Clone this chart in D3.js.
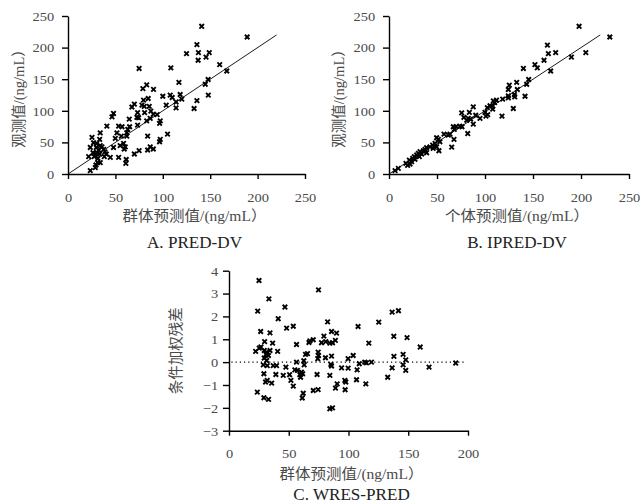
<!DOCTYPE html>
<html><head><meta charset="utf-8">
<script src="https://cdn.jsdelivr.net/npm/d3@7"></script>
<style>
html,body{margin:0;padding:0;background:#fff;}
svg{display:block;}
</style></head>
<body><div id="chart"></div>
<script>
// ---------- Data ----------
// Panel A: PRED (x) vs DV (y)
const predA_x = [141,189,136,125,137.6,149,145.6,137.3,160,167.5,75,108.5,117,147.8,144.8,148,83,79,90.2,118.3,107.8,100,109.9,84.6,79.7,120,114,136,103.6,70,67.4,80.4,78,85.7,114,133,48,46.4,73.4,74.5,80.8,87.4,90,94,86.7,83,72.7,64.6,97.3,96.6,73.4,41,53.4,57,65,63,51.6,62,34,56.2,62,25.3,33.4,49.9,84,97.3,96.6,105,58.6,55,30.5,34,35.8,27,23.5,29.8,32.3,48,60.4,59.3,86.7,90,84,75,70,37.6,39,40.4,26.3,28.8,30.5,33.4,38.3,21.8,27.7,31.6,44.6,53.4,61.4,61,31.2,34,29.5,28.8,23.5];
const predA_y = [233.7,216.8,204.7,190.5,192,192,185,180,173,163,167,168,145,149.5,142,124.7,141,135,134,125.8,124.7,123,121,119.5,117,118.4,114,116,109,110.5,106,107,109,107,104.7,103.7,95.8,90.5,97,89,97,99.5,94.7,94,88,84,89.5,86.8,84,80,77.4,75.8,75.8,74.7,74.7,70.5,65,65,65,60,60,58,54.7,56.3,60,54.7,51,63,48.4,45,48.4,45,43,49.5,42,42,38,42,43,39.5,43,39.5,38,37,31.6,39,35,31.6,33.7,31.6,33.7,31.6,27.4,27.4,27.4,24.7,26.3,26.3,23,16.8,17.9,17.9,14.2,10,5.3];
// Panel B: IPRED (x) vs DV (y)
const ipred_x = [198,230,165,166,173.6,205,190,161.5,152,154.5,168.4,140,145.5,143.4,133,125.3,133.7,124.3,130.6,124.3,124.3,141.7,131,118.4,112,110,108.7,105.2,108,102.4,108,129.5,87.8,75.7,83.7,90.3,94.8,101,102.8,100,117.7,78,82.6,85,81,87.8,67,69.8,68,73.8,76,82,63.5,61.8,57.3,49.6,51.4,67.7,53,48,45.5,42.7,39.2,37.5,32.3,30.6,28.8,26.4,24.7,21.2,17.7,19.4,21.9,9.7,6.3,65.3,52,34,39.2,46,49.6,35.8,31.6,27,23.6];
const ipred_y = [233.7,216.8,204,190.5,192,192,185,180,173,168,163,167,149.5,142,145,140.5,133.7,133.7,125.8,123.7,120.5,123,122,118.4,117,113,115.8,108,107.4,105,102.6,103.7,106.3,96.8,97.4,93,88,91.6,94,97.4,91.6,89.5,88,86.8,85,79,74.7,74.7,70.5,75.8,74.7,64,63,61.6,63,57.4,54.7,54.7,51,48.4,45.8,43,41.6,39,35.3,32.6,30,27.4,24.7,22,16.8,13.7,15.8,9,5.3,42.6,36.8,31.6,33.7,40.5,43,36.8,27.4,23.4,19.5];
// Panel C: PRED (x) vs CWRES (y)
const wres_x = [25.1,74.9,33.4,24,46.8,41.2,48.2,53.8,82.5,108,125.3,136.5,141.8,26.5,34.3,85.8,90,79.4,137.9,149,29.8,36.5,56.5,66.9,70.5,67.7,77.4,81,84.4,86.6,89,117,160,22.3,25.3,26.7,29.5,31.5,34.3,40.7,31,33,29.5,31.5,56.5,62.9,62.6,64,65.7,74.3,74.9,74.6,80.7,85.8,99.7,99.7,103.9,109,113.6,115,119.2,138,145.7,147.9,145.7,147.9,136.5,132.8,167.4,189.7,28.7,32,37,39.8,47.6,55.1,57.3,60.6,59.3,61.6,59.9,50.7,45.4,29.2,39.2,51.8,53.8,73.7,84.4,85.2,85.8,94.2,96.9,97.7,106.7,107.2,114.5,90.5,89.1,97.2,32,30.6,35.7,23.7,29.2,33.1,62.1,61.3,70.5,74.6,84.4,86.6];
const wres_y = [3.57,3.16,2.77,2.23,2.41,1.9,1.49,1.57,1.76,1.56,1.75,2.19,2.25,1.34,1.28,1.34,1.27,1.14,1.13,1.07,0.9,0.83,0.77,0.86,0.98,0.93,0.85,0.9,0.83,0.85,0.95,0.83,0.66,0.47,0.61,0.66,0.51,0.44,0.51,0.47,0.34,0.29,0.18,0.07,0,-0.12,0.06,0.34,0.37,0.15,0.29,0.44,0.19,0.26,-0.26,0.15,0.29,-0.07,0,-0.03,0,0.25,0.34,0.1,-0.12,-0.36,-0.25,-0.66,-0.22,-0.04,-0.12,-0.15,-0.15,-0.15,-0.22,-0.34,-0.36,-0.44,-0.55,-0.51,-0.66,-0.55,-0.58,-0.51,-0.54,-0.8,-1.05,-0.54,-0.58,-0.1,-0.17,-0.25,-0.8,-0.87,-0.77,-0.34,-0.95,-0.95,-1.14,-1.21,-0.8,-0.87,-0.92,-1.31,-1.56,-1.63,-1.36,-1.57,-1.24,-1.2,-2.04,-2];

// Tick labels
const ticksAB = [0,50,100,150,200,250];
const ticksCx = [0,50,100,150,200];
const ticksCy = [-3,-2,-1,0,1,2,3,4];
const identityLine = [0,220];

const labelsA = {x:"群体预测值/(ng/mL）", y:"观测值/(ng/mL）", title:"A. PRED-DV"};
const labelsB = {x:"个体预测值/(ng/mL）", y:"观测值/(ng/mL）", title:"B. IPRED-DV"};
const labelsC = {x:"群体预测值/(ng/mL）", y:"条件加权残差", title:"C. WRES-PRED"};

// ---------- Drawing ----------
const W = 642, H = 503;
const FONT = "'Liberation Serif','Noto Sans CJK SC',serif";
const TXT = "#4a4a4a";
const SX = 1.07; // slight horizontal stretch seen in the reference

const svg = d3.select("#chart").append("svg").attr("width", W).attr("height", H)
  .style("background","#fff");

function stretchText(sel){
  sel.attr("transform", `scale(${SX},1)`);
}

function label(x, y, txt, size, rotate, color){
  const g = svg.append("g").attr("transform", `translate(${x},${y})` + (rotate ? " rotate(-90)" : ""));
  g.append("text")
    .attr("text-anchor","middle")
    .attr("font-family", FONT)
    .attr("font-size", size)
    .attr("fill", color || TXT)
    .attr("transform", rotate ? "" : `scale(${SX},1)`)
    .text(txt);
}

const sym = d3.symbol().type(d3.symbolTimes).size(15);

function panel(o){
  const x = d3.scaleLinear().domain(o.xd).range([o.x0, o.x1]);
  const y = d3.scaleLinear().domain(o.yd).range([o.y0, o.y1]);

  const gx = svg.append("g").attr("transform", `translate(0,${o.y0})`)
    .call(d3.axisBottom(x).tickValues(o.xt).tickSize(5).tickSizeOuter(0).tickPadding(13)
      .tickFormat(d3.format("d")));
  const gy = svg.append("g").attr("transform", `translate(${o.x0},0)`)
    .call(d3.axisLeft(y).tickValues(o.yt).tickSize(6).tickSizeOuter(0).tickPadding(o.ypad)
      .tickFormat(d => d < 0 ? "\u2212" + Math.abs(d) : String(d)));
  [gx, gy].forEach(g => {
    g.select(".domain").attr("stroke","#000").attr("stroke-width",1.4);
    g.selectAll(".tick line").attr("stroke","#000").attr("stroke-width",1.4);
    g.selectAll(".tick text").attr("font-family", FONT).attr("font-size", 13.5)
      .attr("fill", TXT).call(stretchText);
  });

  if (o.line) {
    svg.append("line")
      .attr("x1", x(o.line[0])).attr("y1", y(o.line[0]))
      .attr("x2", x(o.line[1])).attr("y2", y(o.line[1]))
      .attr("stroke","#000").attr("stroke-width",0.9);
  }
  if (o.zero) {
    svg.append("line")
      .attr("x1", x(o.zero[0])).attr("y1", y(0))
      .attr("x2", x(o.zero[1])).attr("y2", y(0))
      .attr("stroke","#000").attr("stroke-width",1.2)
      .attr("stroke-dasharray","1.2,3");
  }

  svg.append("g").selectAll("path").data(o.xs).join("path")
    .attr("transform", (d,i) => `translate(${x(d)},${y(o.ys[i])})`)
    .attr("d", sym)
    .attr("fill","none").attr("stroke","#000").attr("stroke-width",1.9);

  const cx = (o.x0 + o.x1)/2 + o.lshift;
  label(cx, o.y0 + o.xlabDy, o.lab.x, 14.5, false);
  label(cx, o.y0 + o.titleDy, o.lab.title, 16, false, "#222");
  label(o.ylabX, (o.y0 + o.y1)/2, o.lab.y, 14.5, true);
}

panel({xd:[0,250], yd:[0,250], x0:68, x1:305, y0:174, y1:16, xt:ticksAB, yt:ticksAB, ypad:7,
  xs:predA_x, ys:predA_y, line:identityLine, lab:labelsA, lshift:8, xlabDy:47, titleDy:74, ylabX:24});
panel({xd:[0,250], yd:[0,250], x0:389, x1:629, y0:174, y1:16, xt:ticksAB, yt:ticksAB, ypad:7,
  xs:ipred_x, ys:ipred_y, line:identityLine, lab:labelsB, lshift:8, xlabDy:47, titleDy:74, ylabX:344});
panel({xd:[0,200], yd:[-3,4], x0:229, x1:468, y0:430.7, y1:270.7, xt:ticksCx, yt:ticksCy, ypad:4,
  xs:wres_x, ys:wres_y, zero:[2,197], lab:labelsC, lshift:3, xlabDy:48, titleDy:69, ylabX:181});
</script>
</body></html>
